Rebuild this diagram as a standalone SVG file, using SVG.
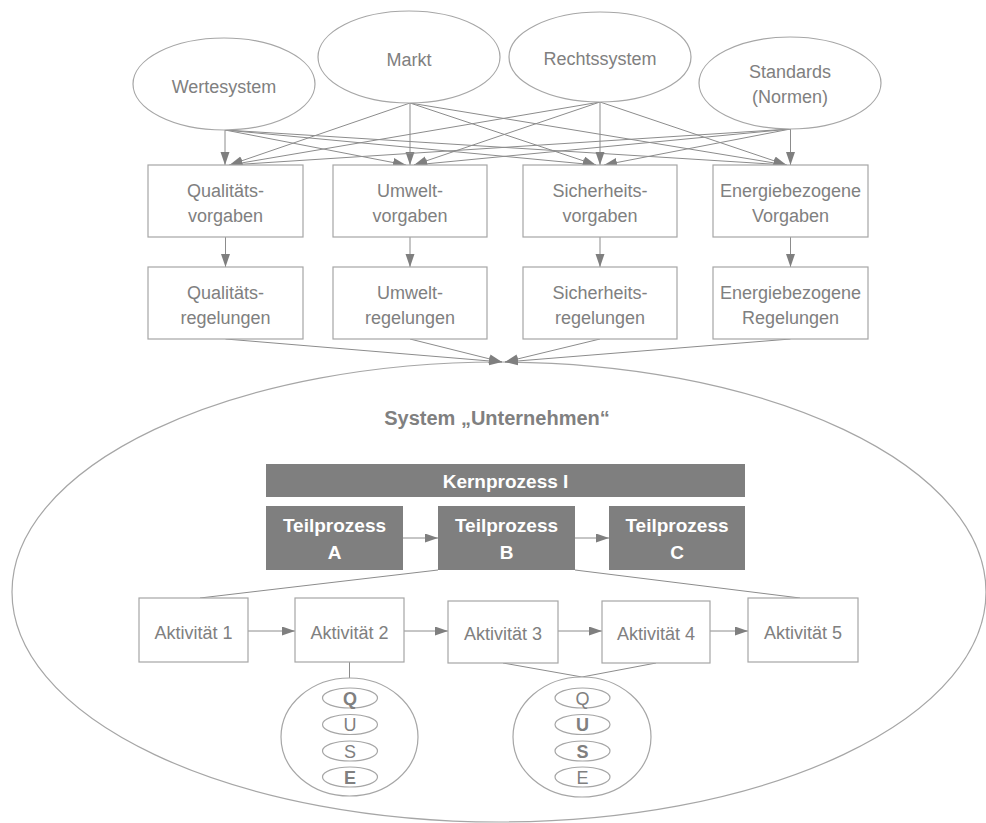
<svg xmlns="http://www.w3.org/2000/svg" width="986" height="823" viewBox="0 0 986 823">
  <defs>
    <marker id="arrow" markerUnits="userSpaceOnUse" markerWidth="14" markerHeight="10" refX="13" refY="4.5" orient="auto">
      <path d="M0,0 L13,4.5 L0,9 z" fill="#7f7f7f"/>
    </marker>
    <style>
      .shape { fill: #ffffff; stroke: #a6a6a6; stroke-width: 1.2; }
      .dark { fill: #7f7f7f; stroke: none; }
      .lbl { font-family: "Liberation Sans", Arial, sans-serif; font-size: 18px; fill: #808080; text-anchor: middle; }
      .bold { font-weight: bold; }
      .white { font-family: "Liberation Sans", Arial, sans-serif; font-size: 19px; font-weight: bold; fill: #ffffff; text-anchor: middle; }
      .title { font-family: "Liberation Sans", Arial, sans-serif; font-size: 20px; font-weight: bold; fill: #808080; text-anchor: middle; }
      .conn line { stroke: #8c8c8c; stroke-width: 1; fill: none; }
      .conn .arr { marker-end: url(#arrow); }
    </style>
  </defs>

  <!-- enterprise system boundary -->
  <g id="system">
    <ellipse cx="499" cy="592" rx="487" ry="230" fill="none" stroke="#a6a6a6" stroke-width="1.2"/>
    <text class="title" x="497" y="425">System „Unternehmen“</text>
  </g>

  <!-- connectors -->
  <g id="connectors" class="conn">
    <!-- from the four sources to the four requirement boxes -->
    <line class="arr" x1="225" y1="130" x2="225" y2="165"/>
    <line class="arr" x1="225" y1="130" x2="406" y2="165"/>
    <line class="arr" x1="225" y1="130" x2="596" y2="165"/>
    <line class="arr" x1="225" y1="130" x2="786.5" y2="165"/>
    <line class="arr" x1="410" y1="103" x2="229.5" y2="165"/>
    <line class="arr" x1="410" y1="103" x2="410" y2="165"/>
    <line class="arr" x1="410" y1="103" x2="596" y2="165"/>
    <line class="arr" x1="410" y1="103" x2="786.5" y2="165"/>
    <line class="arr" x1="600" y1="102" x2="229.5" y2="165"/>
    <line class="arr" x1="600" y1="102" x2="414" y2="165"/>
    <line class="arr" x1="600" y1="102" x2="600" y2="165"/>
    <line class="arr" x1="600" y1="102" x2="786.5" y2="165"/>
    <line class="arr" x1="790.5" y1="129" x2="229.5" y2="165"/>
    <line class="arr" x1="790.5" y1="129" x2="414" y2="165"/>
    <line class="arr" x1="790.5" y1="129" x2="604" y2="165"/>
    <line class="arr" x1="790.5" y1="129" x2="790.5" y2="165"/>
    <!-- requirements to rules -->
    <line class="arr" x1="225.5" y1="237" x2="225.5" y2="267"/>
    <line class="arr" x1="410" y1="237" x2="410" y2="267"/>
    <line class="arr" x1="600" y1="237" x2="600" y2="267"/>
    <line class="arr" x1="790.5" y1="237" x2="790.5" y2="267"/>
    <!-- rules into the enterprise -->
    <line class="arr" x1="225.5" y1="339" x2="502" y2="362"/>
    <line class="arr" x1="410" y1="339" x2="502" y2="362"/>
    <line class="arr" x1="600" y1="339" x2="505" y2="362"/>
    <line class="arr" x1="790.5" y1="339" x2="505" y2="362"/>
    <!-- sub-process chain -->
    <line class="arr" x1="403" y1="538" x2="438" y2="538"/>
    <line class="arr" x1="575" y1="538" x2="609" y2="538"/>
    <!-- sub-process B detailed into activities -->
    <line x1="438" y1="570" x2="200" y2="598"/>
    <line x1="575" y1="570" x2="800" y2="598"/>
    <!-- activity chain -->
    <line class="arr" x1="248" y1="631" x2="295" y2="631"/>
    <line class="arr" x1="404" y1="631" x2="448" y2="631"/>
    <line class="arr" x1="558" y1="631" x2="602" y2="631"/>
    <line class="arr" x1="710" y1="631" x2="748" y2="631"/>
    <!-- activities to QUSE aspects -->
    <line x1="349.5" y1="662" x2="349.5" y2="678"/>
    <line x1="503" y1="663" x2="582" y2="677"/>
    <line x1="656" y1="663" x2="582" y2="677"/>
  </g>

  <!-- sources -->
  <g id="wertesystem">
    <ellipse class="shape" cx="224" cy="84" rx="91" ry="46"/>
    <text class="lbl" x="224" y="93">Wertesystem</text>
  </g>
  <g id="markt">
    <ellipse class="shape" cx="409" cy="57" rx="91" ry="46"/>
    <text class="lbl" x="409" y="66">Markt</text>
  </g>
  <g id="rechtssystem">
    <ellipse class="shape" cx="600" cy="57" rx="91" ry="45"/>
    <text class="lbl" x="600" y="65">Rechtssystem</text>
  </g>
  <g id="standards">
    <ellipse class="shape" cx="790" cy="83" rx="91" ry="46"/>
    <text class="lbl" x="790" y="78">Standards</text>
    <text class="lbl" x="790" y="103">(Normen)</text>
  </g>

  <!-- requirements -->
  <g id="qualitaetsvorgaben">
    <rect class="shape" x="148" y="165" width="155" height="72"/>
    <text class="lbl" x="225.5" y="196.5">Qualitäts-</text>
    <text class="lbl" x="225.5" y="222">vorgaben</text>
  </g>
  <g id="umweltvorgaben">
    <rect class="shape" x="333" y="165" width="154" height="72"/>
    <text class="lbl" x="410" y="196.5">Umwelt-</text>
    <text class="lbl" x="410" y="222">vorgaben</text>
  </g>
  <g id="sicherheitsvorgaben">
    <rect class="shape" x="523" y="165" width="154" height="72"/>
    <text class="lbl" x="600" y="196.5">Sicherheits-</text>
    <text class="lbl" x="600" y="222">vorgaben</text>
  </g>
  <g id="energievorgaben">
    <rect class="shape" x="713" y="165" width="155" height="72"/>
    <text class="lbl" x="790.5" y="196.5">Energiebezogene</text>
    <text class="lbl" x="790.5" y="222">Vorgaben</text>
  </g>

  <!-- rules -->
  <g id="qualitaetsregelungen">
    <rect class="shape" x="148" y="267" width="155" height="72"/>
    <text class="lbl" x="225.5" y="298.5">Qualitäts-</text>
    <text class="lbl" x="225.5" y="324">regelungen</text>
  </g>
  <g id="umweltregelungen">
    <rect class="shape" x="333" y="267" width="154" height="72"/>
    <text class="lbl" x="410" y="298.5">Umwelt-</text>
    <text class="lbl" x="410" y="324">regelungen</text>
  </g>
  <g id="sicherheitsregelungen">
    <rect class="shape" x="523" y="267" width="154" height="72"/>
    <text class="lbl" x="600" y="298.5">Sicherheits-</text>
    <text class="lbl" x="600" y="324">regelungen</text>
  </g>
  <g id="energieregelungen">
    <rect class="shape" x="713" y="267" width="155" height="72"/>
    <text class="lbl" x="790.5" y="298.5">Energiebezogene</text>
    <text class="lbl" x="790.5" y="324">Regelungen</text>
  </g>

  <!-- core process -->
  <g id="kernprozess">
    <rect class="dark" x="266" y="464" width="479" height="33"/>
    <text class="white" x="505.5" y="488">Kernprozess I</text>
  </g>
  <g id="teilprozess-a">
    <rect class="dark" x="266" y="506" width="137" height="64"/>
    <text class="white" x="334.5" y="531.5">Teilprozess</text>
    <text class="white" x="334.5" y="559">A</text>
  </g>
  <g id="teilprozess-b">
    <rect class="dark" x="438" y="506" width="137" height="64"/>
    <text class="white" x="506.5" y="531.5">Teilprozess</text>
    <text class="white" x="506.5" y="559">B</text>
  </g>
  <g id="teilprozess-c">
    <rect class="dark" x="609" y="506" width="136" height="64"/>
    <text class="white" x="677" y="531.5">Teilprozess</text>
    <text class="white" x="677" y="559">C</text>
  </g>

  <!-- activities -->
  <g id="aktivitaet-1">
    <rect class="shape" x="139" y="598" width="109" height="64"/>
    <text class="lbl" x="193.5" y="639">Aktivität 1</text>
  </g>
  <g id="aktivitaet-2">
    <rect class="shape" x="295" y="598" width="109" height="64"/>
    <text class="lbl" x="349.5" y="639">Aktivität 2</text>
  </g>
  <g id="aktivitaet-3">
    <rect class="shape" x="448" y="601" width="110" height="62"/>
    <text class="lbl" x="503" y="640">Aktivität 3</text>
  </g>
  <g id="aktivitaet-4">
    <rect class="shape" x="602" y="601" width="108" height="62"/>
    <text class="lbl" x="656" y="640">Aktivität 4</text>
  </g>
  <g id="aktivitaet-5">
    <rect class="shape" x="748" y="598" width="110" height="64"/>
    <text class="lbl" x="803" y="639">Aktivität 5</text>
  </g>

  <!-- QUSE aspects of activity 2 -->
  <g id="quse-1">
    <ellipse class="shape" cx="349.5" cy="737" rx="68.5" ry="59"/>
    <ellipse class="shape" cx="350" cy="698" rx="27.5" ry="10"/>
    <ellipse class="shape" cx="350" cy="724.5" rx="27.5" ry="10"/>
    <ellipse class="shape" cx="350" cy="751" rx="27.5" ry="10"/>
    <ellipse class="shape" cx="350" cy="777" rx="27.5" ry="10"/>
    <text class="lbl bold" x="350" y="704.5">Q</text>
    <text class="lbl" x="350" y="731">U</text>
    <text class="lbl" x="350" y="757.5">S</text>
    <text class="lbl bold" x="350" y="783.5">E</text>
  </g>

  <!-- QUSE aspects of activities 3 and 4 -->
  <g id="quse-2">
    <ellipse class="shape" cx="582" cy="737" rx="69" ry="60"/>
    <ellipse class="shape" cx="582.5" cy="698" rx="27.5" ry="10"/>
    <ellipse class="shape" cx="582.5" cy="724.5" rx="27.5" ry="10"/>
    <ellipse class="shape" cx="582.5" cy="751" rx="27.5" ry="10"/>
    <ellipse class="shape" cx="582.5" cy="777" rx="27.5" ry="10"/>
    <text class="lbl" x="582.5" y="704.5">Q</text>
    <text class="lbl bold" x="582.5" y="731">U</text>
    <text class="lbl bold" x="582.5" y="757.5">S</text>
    <text class="lbl" x="582.5" y="783.5">E</text>
  </g>
</svg>
